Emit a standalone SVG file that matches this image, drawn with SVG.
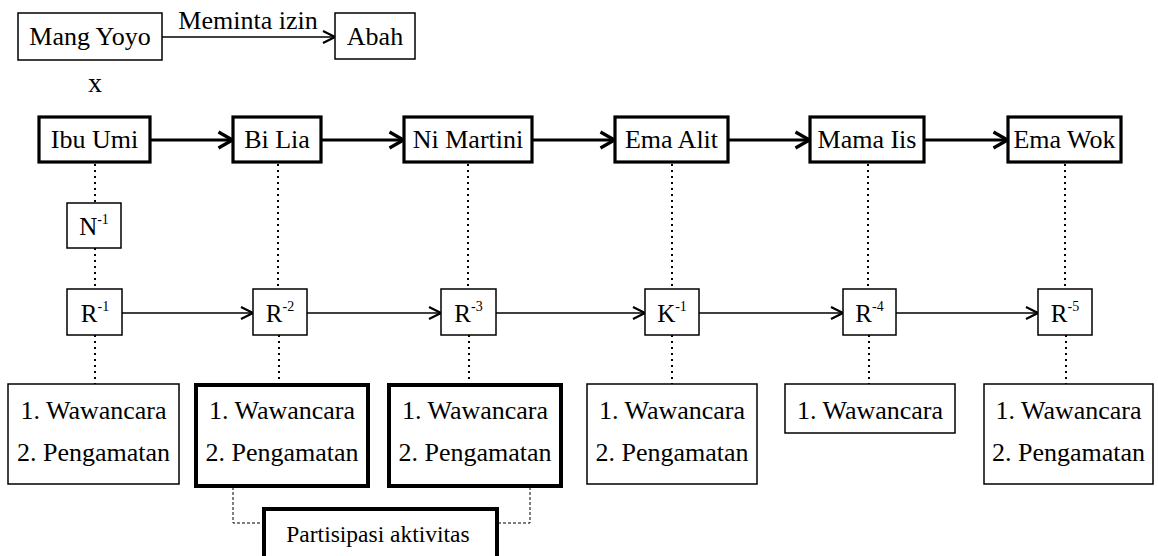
<svg xmlns="http://www.w3.org/2000/svg" width="1158" height="556" viewBox="0 0 1158 556">
  <style>
    text { font-family: "Liberation Serif", "DejaVu Serif", serif; fill: #000; text-anchor: middle; }
    .lbl { font-size: 26px; }
    .code { font-size: 25px; }
    .sup { font-size: 14px; }
    .box { fill: #fff; stroke: #000; stroke-width: 1.5; }
    .bold { fill: #fff; stroke: #000; stroke-width: 3.2; }
    .heavy { fill: #fff; stroke: #000; stroke-width: 4; }
    .flow { fill: none; stroke: #000; stroke-width: 3.2; }
    .link { fill: none; stroke: #000; stroke-width: 1.6; }
    .dots { fill: none; stroke: #000; stroke-width: 2; stroke-dasharray: 2 4; }
    .dash { fill: none; stroke: #000; stroke-width: 1; stroke-dasharray: 3 2; }
  </style>
  <defs>
    <marker id="arrowBold" markerUnits="userSpaceOnUse" viewBox="0 0 18 20" markerWidth="18" markerHeight="20" refX="16.5" refY="10" orient="auto">
      <path d="M2,2 L16,10 L2,18" fill="none" stroke="#000" stroke-width="3.2" stroke-linejoin="miter"/>
    </marker>
    <marker id="arrowThin" markerUnits="userSpaceOnUse" viewBox="0 0 14 14" markerWidth="14" markerHeight="14" refX="13" refY="7" orient="auto">
      <path d="M1,1 L13,7 L1,13" fill="none" stroke="#000" stroke-width="2.2"/>
    </marker>
  </defs>

  <rect width="1158" height="556" fill="#fff"/>

  <!-- connectors -->
  <g id="connectors">
    <!-- permission request -->
    <line class="link" x1="162" y1="37" x2="335" y2="37" marker-end="url(#arrowThin)"/>
    <!-- informant chain -->
    <line class="flow" x1="150" y1="140" x2="233" y2="140" marker-end="url(#arrowBold)"/>
    <line class="flow" x1="321" y1="140" x2="404" y2="140" marker-end="url(#arrowBold)"/>
    <line class="flow" x1="532" y1="140" x2="615" y2="140" marker-end="url(#arrowBold)"/>
    <line class="flow" x1="728" y1="140" x2="810" y2="140" marker-end="url(#arrowBold)"/>
    <line class="flow" x1="924" y1="140" x2="1008" y2="140" marker-end="url(#arrowBold)"/>
    <!-- code chain -->
    <line class="link" x1="122" y1="313" x2="253" y2="313" marker-end="url(#arrowThin)"/>
    <line class="link" x1="307" y1="313" x2="441" y2="313" marker-end="url(#arrowThin)"/>
    <line class="link" x1="496" y1="313" x2="645" y2="313" marker-end="url(#arrowThin)"/>
    <line class="link" x1="699" y1="313" x2="843" y2="313" marker-end="url(#arrowThin)"/>
    <line class="link" x1="896" y1="313" x2="1038" y2="313" marker-end="url(#arrowThin)"/>
    <!-- dotted drops: informant to code -->
    <line class="dots" x1="95" y1="164" x2="95" y2="203"/>
    <line class="dots" x1="95" y1="248" x2="95" y2="289"/>
    <line class="dots" x1="278" y1="164" x2="278" y2="289"/>
    <line class="dots" x1="468" y1="164" x2="468" y2="289"/>
    <line class="dots" x1="672" y1="164" x2="672" y2="289"/>
    <line class="dots" x1="868" y1="164" x2="868" y2="289"/>
    <line class="dots" x1="1065" y1="164" x2="1065" y2="289"/>
    <!-- dotted drops: code to methods -->
    <line class="dots" x1="95" y1="335" x2="95" y2="384"/>
    <line class="dots" x1="279" y1="335" x2="279" y2="384"/>
    <line class="dots" x1="469" y1="335" x2="469" y2="384"/>
    <line class="dots" x1="672" y1="335" x2="672" y2="384"/>
    <line class="dots" x1="869" y1="335" x2="869" y2="384"/>
    <line class="dots" x1="1066" y1="335" x2="1066" y2="384"/>
    <!-- participation bracket -->
    <polyline class="dash" points="233,487 233,523 262,523"/>
    <polyline class="dash" points="530,487 530,523 497,523"/>
  </g>

  <g font-family="Liberation Serif, DejaVu Serif, serif">
  <!-- top line -->
  <g id="mang-yoyo">
    <rect class="box" x="18" y="13" width="144" height="47"/>
    <text class="lbl" x="90" y="45">Mang Yoyo</text>
  </g>
  <g id="abah">
    <rect class="box" x="335" y="13" width="80" height="46"/>
    <text class="lbl" x="375" y="45">Abah</text>
  </g>
  <text id="label-meminta-izin" class="lbl" x="248" y="29">Meminta izin</text>
  <text id="mark-x" class="lbl" x="95" y="92" style="font-size:28px">x</text>

  <!-- informants -->
  <g id="ibu-umi">
    <rect class="bold" x="39" y="117" width="111" height="45"/>
    <text class="lbl" x="94.5" y="148">Ibu Umi</text>
  </g>
  <g id="bi-lia">
    <rect class="bold" x="233" y="117" width="88" height="45"/>
    <text class="lbl" x="277" y="148">Bi Lia</text>
  </g>
  <g id="ni-martini">
    <rect class="bold" x="404" y="117" width="128" height="45"/>
    <text class="lbl" x="468" y="148">Ni Martini</text>
  </g>
  <g id="ema-alit">
    <rect class="bold" x="615" y="117" width="113" height="45"/>
    <text class="lbl" x="671.5" y="148">Ema Alit</text>
  </g>
  <g id="mama-iis">
    <rect class="bold" x="810" y="117" width="114" height="45"/>
    <text class="lbl" x="867" y="148">Mama Iis</text>
  </g>
  <g id="ema-wok">
    <rect class="bold" x="1008" y="117" width="113" height="45"/>
    <text class="lbl" x="1064.5" y="148">Ema Wok</text>
  </g>

  <!-- codes -->
  <g id="n-1">
    <rect class="box" x="67" y="203" width="54" height="45"/>
    <text class="code" x="94" y="235">N<tspan class="sup" dy="-11">-1</tspan></text>
  </g>
  <g id="r-1">
    <rect class="box" x="67" y="289" width="55" height="46"/>
    <text class="code" x="95" y="322">R<tspan class="sup" dy="-11">-1</tspan></text>
  </g>
  <g id="r-2">
    <rect class="box" x="253" y="289" width="54" height="46"/>
    <text class="code" x="280" y="322">R<tspan class="sup" dy="-11">-2</tspan></text>
  </g>
  <g id="r-3">
    <rect class="box" x="441" y="289" width="55" height="46"/>
    <text class="code" x="468.5" y="322">R<tspan class="sup" dy="-11">-3</tspan></text>
  </g>
  <g id="k-1">
    <rect class="box" x="645" y="289" width="54" height="46"/>
    <text class="code" x="672" y="322">K<tspan class="sup" dy="-11">-1</tspan></text>
  </g>
  <g id="r-4">
    <rect class="box" x="843" y="289" width="53" height="46"/>
    <text class="code" x="869.5" y="322">R<tspan class="sup" dy="-11">-4</tspan></text>
  </g>
  <g id="r-5">
    <rect class="box" x="1038" y="289" width="54" height="46"/>
    <text class="code" x="1065" y="322">R<tspan class="sup" dy="-11">-5</tspan></text>
  </g>

  <!-- methods -->
  <g id="methods-1">
    <rect class="box" x="8" y="384" width="171" height="100"/>
    <text class="lbl" x="93.5" y="419">1. Wawancara</text>
    <text class="lbl" x="93.5" y="461">2. Pengamatan</text>
  </g>
  <g id="methods-2">
    <rect class="heavy" x="196" y="385" width="172" height="101"/>
    <text class="lbl" x="282" y="419">1. Wawancara</text>
    <text class="lbl" x="282" y="461">2. Pengamatan</text>
  </g>
  <g id="methods-3">
    <rect class="heavy" x="389" y="385" width="172" height="101"/>
    <text class="lbl" x="475" y="419">1. Wawancara</text>
    <text class="lbl" x="475" y="461">2. Pengamatan</text>
  </g>
  <g id="methods-4">
    <rect class="box" x="587" y="384" width="170" height="100"/>
    <text class="lbl" x="672" y="419">1. Wawancara</text>
    <text class="lbl" x="672" y="461">2. Pengamatan</text>
  </g>
  <g id="methods-5">
    <rect class="box" x="785" y="384" width="170" height="49"/>
    <text class="lbl" x="870" y="419">1. Wawancara</text>
  </g>
  <g id="methods-6">
    <rect class="box" x="984" y="384" width="169" height="100"/>
    <text class="lbl" x="1068.5" y="419">1. Wawancara</text>
    <text class="lbl" x="1068.5" y="461">2. Pengamatan</text>
  </g>

  <!-- participation -->
  <g id="partisipasi-aktivitas">
    <rect class="heavy" x="264" y="509" width="233" height="60"/>
    <text class="lbl" x="378" y="542" style="font-size:23.5px">Partisipasi aktivitas</text>
  </g>
  </g>
</svg>
